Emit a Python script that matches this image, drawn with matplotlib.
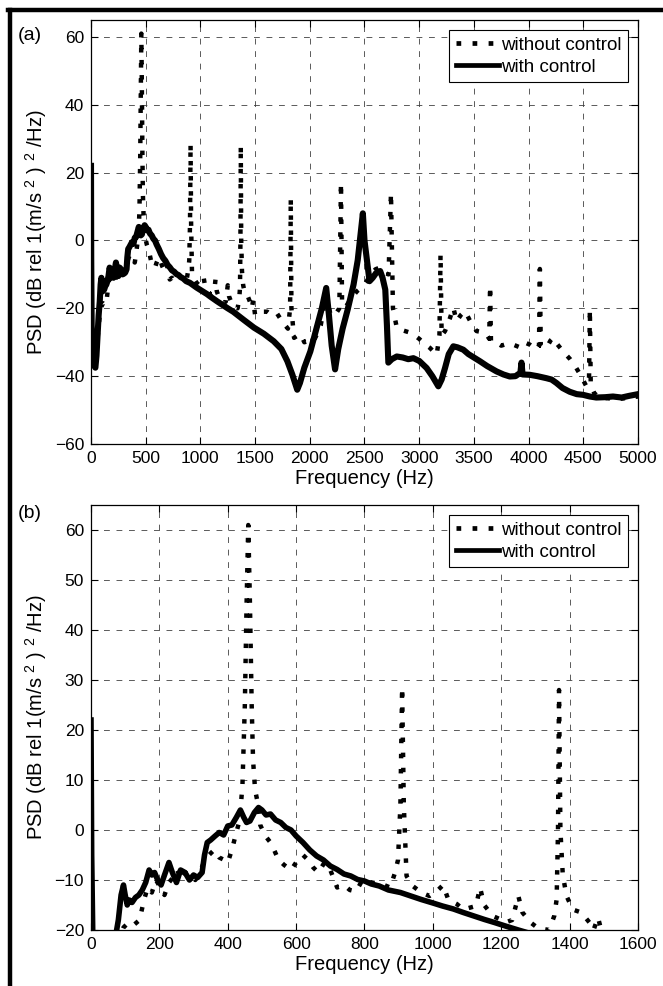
import matplotlib.pyplot as plt
from matplotlib.lines import Line2D

plt.rcParams['font.family'] = ['Liberation Sans', 'DejaVu Sans']
plt.rcParams['mathtext.fontset'] = 'custom'
plt.rcParams['mathtext.rm'] = 'Liberation Sans'
plt.rcParams['mathtext.default'] = 'regular'

# acceleration PSD without control (dotted): frequency in Hz, level in dB
freq_off = [0, 5, 20, 35, 50, 65, 80, 95, 110, 125,
            142, 155, 166, 178, 190, 203, 215, 228, 240, 252,
            265, 277, 290, 305, 318, 330, 345, 360, 375, 390,
            400, 412, 425, 435, 443, 450, 455, 460, 465, 470,
            474, 480, 486, 495, 510, 525, 535, 548, 565, 585,
            600, 620, 635, 650, 665, 683, 700, 720, 740, 757,
            775, 794, 820, 850, 875, 888, 898, 905, 910, 915,
            923, 941, 966, 990, 1015, 1030, 1045, 1070, 1089, 1110,
            1126, 1138, 1150, 1175, 1195, 1212, 1232, 1250, 1262, 1286,
            1305, 1323, 1340, 1355, 1362, 1366, 1369, 1373, 1380, 1391,
            1409, 1434, 1458, 1470, 1483, 1500, 1550, 1610, 1650, 1700,
            1750, 1800, 1820, 1826, 1832, 1856, 1890, 1917, 1950, 1978,
            2030, 2060, 2100, 2150, 2190, 2230, 2270, 2285, 2295, 2330,
            2380, 2430, 2480, 2520, 2560, 2600, 2640, 2680, 2720, 2742,
            2760, 2795, 2850, 2900, 2947, 3000, 3050, 3099, 3160, 3185,
            3195, 3205, 3236, 3280, 3312, 3342, 3380, 3418, 3470, 3524,
            3570, 3616, 3640, 3648, 3656, 3700, 3750, 3800, 3859, 3920,
            3960, 4011, 4072, 4095, 4103, 4111, 4163, 4200, 4224, 4260,
            4315, 4380, 4436, 4480, 4528, 4552, 4560, 4568, 4600, 4650,
            4720, 4800, 4880, 4950, 5000]
psd_off = [-8, -25, -33, -36, -33, -27, -22, -19.5, -18.5, -19,
           -18, -14, -11.5, -12.5, -10, -11.5, -13, -10.5, -9.5, -8,
           -10, -8.5, -9.5, -10, -8.5, -6.5, -5, -4, -5.5, -6,
           -6.5, -4, -0.5, 2, 9, 25, 45, 61, 45, 25,
           14, 8, 6, 1, -1.2, -2.5, -3.9, -5.9, -7, -8,
           -6.5, -5, -6, -7.5, -8.5, -6.5, -8, -11.5, -11, -12,
           -12.3, -10, -10.5, -10.8, -11.5, -8.8, -6, 5, 28.5, 5,
           -9.2, -11.2, -12.5, -13.2, -12, -11, -13.9, -14.8, -15.9, -15.5,
           -15.2, -11.5, -15, -17.2, -17.8, -18.5, -18, -13.2, -16.5, -18.5,
           -19.5, -19.8, -20, -17.2, -13.9, 0, 28, 0, -9, -13.2,
           -15.9, -16.5, -18.5, -20, -17.5, -22, -21, -21, -22, -21.5,
           -24, -26, -20, 12.5, -20, -28.7, -28, -27.7, -30, -29.7,
           -30, -28, -25, -16, -22, -22, -20, 17, -19, -19.5,
           -17, -15, -13.6, -12, -10, -8.5, -8, -9.5, -10, 14,
           -20, -25.7, -26.5, -27, -27.7, -29, -30.5, -31.7, -33.7, -28,
           -4, -28, -26.7, -23, -19.8, -23.8, -22, -20.8, -24, -26.7,
           -27, -27.7, -29, -13.4, -29.7, -30, -31, -30.5, -30.7, -31.5,
           -30, -30.7, -32.2, -31, -8.4, -31, -31.7, -29.5, -28.7, -30.5,
           -32.7, -35, -37.6, -40, -43, -42, -20.3, -42.6, -45, -46.5,
           -46.5, -46.8, -46.5, -46.2, -46]

# acceleration PSD with control (solid)
freq_on = [0, 2, 6, 15, 30, 40, 50, 60, 70, 80,
           88, 95, 100, 106, 112, 120, 130, 140, 150, 160,
           170, 178, 186, 195, 205, 215, 228, 238, 250, 262,
           275, 288, 300, 312, 325, 332, 340, 350, 363, 375,
           388, 400, 412, 425, 437, 447, 455, 465, 478, 490,
           500, 512, 525, 540, 555, 570, 585, 600, 620, 640,
           660, 680, 700, 720, 740, 760, 780, 800, 820, 843,
           870, 905, 935, 966, 1000, 1028, 1060, 1089, 1120, 1151,
           1180, 1212, 1250, 1300, 1400, 1490, 1580, 1670, 1740, 1795,
           1840, 1885, 1910, 1950, 2005, 2060, 2110, 2150, 2175, 2200,
           2231, 2260, 2300, 2346, 2400, 2438, 2465, 2485, 2500, 2515,
           2546, 2575, 2608, 2643, 2665, 2690, 2705, 2718, 2750, 2795,
           2850, 2900, 2947, 3000, 3068, 3120, 3175, 3205, 3236, 3270,
           3312, 3350, 3403, 3450, 3500, 3555, 3620, 3707, 3770, 3828,
           3880, 3925, 3935, 3945, 4011, 4080, 4163, 4210, 4254, 4310,
           4376, 4440, 4497, 4560, 4619, 4700, 4771, 4850, 4920, 5000]
psd_on = [22, -5, -25, -33, -37, -37.5, -34, -28, -22, -18,
          -13, -11, -13, -15, -14, -14.5, -13.5, -13, -12, -10.5,
          -8, -9, -8.5, -10, -11, -9, -6.5, -8.5, -10.5, -8,
          -8.5, -10, -9, -9.5, -8.5, -5, -2.5, -2, -1.2, -0.5,
          -1, 0.8, 1, 2.5, 4, 2.5, 1.5, 1.8, 3.5, 4.5,
          4, 3, 3.2, 2, 1.5, 0.5, 0, -1.2, -2.5, -4,
          -5.2, -6, -7.2, -7.9, -8.8, -9.2, -9.9, -10.2, -10.8, -11.2,
          -12, -12.5, -13.2, -13.9, -14.6, -15.2, -15.8, -16.5, -17.2, -17.9,
          -18.5, -19.2, -20, -21, -23.5, -25.7, -27.5, -29.7, -32, -35.6,
          -39.5, -44, -42, -37.5, -32.7, -26, -20, -14, -22, -31,
          -38, -32, -26, -20.4, -13, -5.8, 2, 8, 0, -4,
          -12, -11, -9.5, -9, -11, -14.5, -25, -36, -35, -34.2,
          -34.5, -35, -34.7, -35.5, -37.6, -40, -43, -41, -37.6, -33.5,
          -31.2, -31.5, -32.2, -33.5, -34.5, -35.6, -37, -38.6, -39.5, -40.1,
          -40, -39, -36, -39.5, -39.6, -40, -40.6, -41, -42, -43.5,
          -44.6, -45.3, -45.5, -46, -46.3, -46.2, -46, -46.3, -45.8, -45.3]

W, H = 663, 986
fig = plt.figure(figsize=(W / 100, H / 100), dpi=100)


def box(l, t, r, b):
    # pixel box -> figure fraction rect
    return [l / W, 1 - b / H, (r - l) / W, (b - t) / H]


panels = [
    dict(rect=box(91, 20, 638, 444), xlim=(0, 5000), xticks=range(0, 5001, 500),
         ylim=(-60, 65), yticks=range(-60, 61, 20), tag='(a)', tag_y=35, lw=4.4),
    dict(rect=box(91, 505, 638, 930), xlim=(0, 1600), xticks=range(0, 1601, 200),
         ylim=(-20, 65), yticks=range(-20, 61, 10), tag='(b)', tag_y=513, lw=4.0),
]

ylabel = r'PSD (dB rel 1(m/s $^{2}$ ) $^{2}$ /Hz)'

for p in panels:
    ax = fig.add_axes(p['rect'])
    ax.plot(freq_off, psd_off, color='k', lw=3.2, linestyle=(0, (1, 2.4)),
            dash_capstyle='butt', label='without control')
    ax.plot(freq_on, psd_on, color='k', lw=p['lw'], solid_joinstyle='round',
            label='with control')
    ax.set_xlim(*p['xlim'])
    ax.set_ylim(*p['ylim'])
    ax.set_xticks(list(p['xticks']))
    ax.set_yticks(list(p['yticks']))
    ax.grid(True, color='0.25', lw=0.6, linestyle=(0, (7, 8)))
    ax.set_axisbelow(True)
    ax.tick_params(direction='in', top=True, right=True, length=5, width=0.8,
                   labelsize=12.5, pad=5)
    for s in ax.spines.values():
        s.set_linewidth(0.9)
    ax.set_xlabel('Frequency (Hz)', fontsize=14.5, labelpad=2)
    ax.set_ylabel(ylabel, fontsize=14.5, labelpad=4)
    leg = ax.legend(loc='upper right', fontsize=13.5, fancybox=False,
                    edgecolor='k', framealpha=1, borderpad=0.35,
                    labelspacing=0.25, handlelength=2.3, handletextpad=0.1,
                    borderaxespad=0.55)
    leg.get_frame().set_linewidth(0.8)
    for h in leg.get_lines():
        h.set_linewidth(3.4)
    fig.text(30 / W, 1 - p['tag_y'] / H, p['tag'], fontsize=14,
             ha='center', va='center')

# frame lines along the left and top edge
fig.add_artist(Line2D([9.5 / W, 9.5 / W], [0, 1 - 9.5 / H], color='k', lw=3.2))
fig.add_artist(Line2D([8 / W, 1], [1 - 9.5 / H, 1 - 9.5 / H], color='k', lw=3.2))

fig.savefig('out.png', dpi=100)
